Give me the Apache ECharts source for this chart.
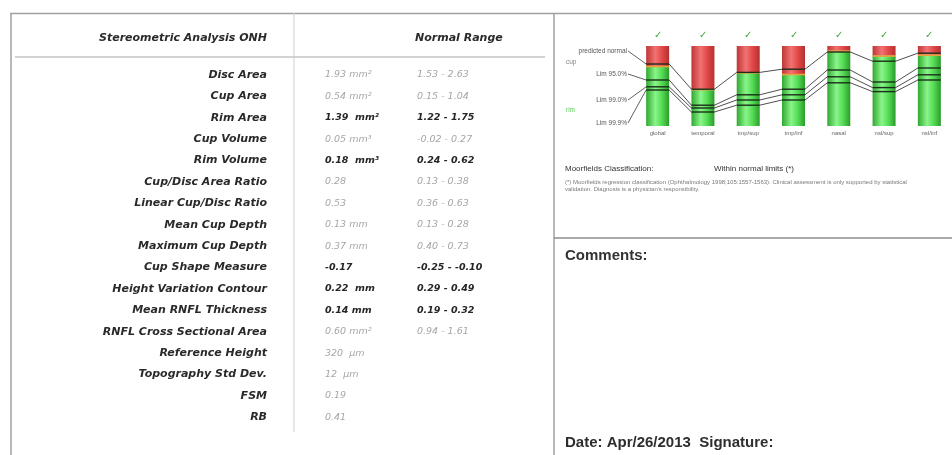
<!DOCTYPE html>
<html><head><meta charset="utf-8">
<script src="https://cdn.jsdelivr.net/npm/echarts@6/dist/echarts.min.js"></script>
<style>html,body{margin:0;padding:0;background:#fff}#c{width:952px;height:455px}</style>
</head><body><div id="c"></div>
<script>
// ---------- data ----------
const sectors = ['global', 'temporal', 'tmp/sup', 'tmp/inf', 'nasal', 'nsl/sup', 'nsl/inf'];
const sectorStatus = ['✓', '✓', '✓', '✓', '✓', '✓', '✓'];
const cupShare = [0.25, 0.54, 0.33, 0.35, 0.06, 0.12, 0.11];
const rimShare = [0.75, 0.46, 0.67, 0.65, 0.94, 0.88, 0.89];
const limitPredicted = [0.775, 0.46, 0.67, 0.71, 0.925, 0.81, 0.91];
const limit95 = [0.575, 0.26, 0.39, 0.46, 0.70, 0.55, 0.725];
const limit99 = [0.49, 0.225, 0.325, 0.39, 0.615, 0.48, 0.64];
const limit999 = [0.45, 0.175, 0.26, 0.325, 0.54, 0.43, 0.575];
const limitNames = ['predicted normal', 'Lim 95.0%', 'Lim 99.0%', 'Lim 99.9%'];

const tableHeader = ['Stereometric Analysis ONH', 'Normal Range'];
const paramNames = ['Disc Area', 'Cup Area', 'Rim Area', 'Cup Volume', 'Rim Volume',
  'Cup/Disc Area Ratio', 'Linear Cup/Disc Ratio', 'Mean Cup Depth', 'Maximum Cup Depth',
  'Cup Shape Measure', 'Height Variation Contour', 'Mean RNFL Thickness',
  'RNFL Cross Sectional Area', 'Reference Height', 'Topography Std Dev.', 'FSM', 'RB'];
const paramValues = ['1.93 mm²', '0.54 mm²', '1.39  mm²', '0.05 mm³', '0.18  mm³',
  '0.28', '0.53', '0.13 mm', '0.37 mm', '-0.17', '0.22  mm', '0.14 mm',
  '0.60 mm²', '320  µm', '12  µm', '0.19', '0.41'];
const paramRanges = ['1.53 - 2.63', '0.15 - 1.04', '1.22 - 1.75', '-0.02 - 0.27', '0.24 - 0.62',
  '0.13 - 0.38', '0.36 - 0.63', '0.13 - 0.28', '0.40 - 0.73', '-0.25 - -0.10', '0.29 - 0.49',
  '0.19 - 0.32', '0.94 - 1.61', '', '', '', ''];
const paramFlagged = [false, false, true, false, true, false, false, false, false,
  true, true, true, false, false, false, false, false];

const classificationLabel = 'Moorfields Classification:';
const classificationResult = 'Within normal limits (*)';
const footnote = ['(*) Moorfields regression classification (Ophthalmology 1998;105:1557-1563). Clinical assessment is only supported by statistical',
  'validation. Diagnosis is a physician\'s responsibility.'];
const commentsLabel = 'Comments:';
const dateLine = 'Date: Apr/26/2013  Signature:';

// ---------- drawing ----------
const chart = echarts.init(document.getElementById('c'));
const DV = '"DejaVu Sans", sans-serif';
const LS = '"Liberation Sans", Arial, sans-serif';
const rowY0 = 75, rowStep = 21.4;
const g = [];
function line(x1, y1, x2, y2, stroke, w) {
  g.push({type: 'line', silent: true, shape: {x1, y1, x2, y2}, style: {stroke, lineWidth: w}});
}
function text(x, y, t, opt) {
  g.push({type: 'text', silent: true, x, y, style: Object.assign({text: t, verticalAlign: 'middle', align: 'left'}, opt)});
}
// frame
line(10, 13.5, 952, 13.5, '#a0a0a0', 1.5);
line(11, 13, 11, 455, '#a0a0a0', 1.5);
line(554, 13, 554, 455, '#a0a0a0', 1.5);
line(294, 13, 294, 432, '#cfcfcf', 1);
line(15, 57, 545, 57, '#c4c4c4', 1.5);
line(554, 238, 952, 238, '#8c8c8c', 1.5);
// table
text(267, 38, tableHeader[0], {align: 'right', fontFamily: DV, fontSize: 11, fontWeight: 'bold', fontStyle: 'italic', fill: '#2a2a2a'});
text(415, 38, tableHeader[1], {fontFamily: DV, fontSize: 11, fontWeight: 'bold', fontStyle: 'italic', fill: '#2a2a2a'});
paramNames.forEach((n, i) => {
  const y = rowY0 + i * rowStep;
  text(267, y, n, {align: 'right', fontFamily: DV, fontSize: 11, fontWeight: 'bold', fontStyle: 'italic', fill: '#2a2a2a'});
  const f = paramFlagged[i];
  const st = {fontFamily: DV, fontSize: 9.5, fontStyle: 'italic', fontWeight: f ? 'bold' : 'normal', fill: f ? '#262626' : '#a6a6a6'};
  text(325, y, paramValues[i], st);
  if (paramRanges[i]) text(417, y, paramRanges[i], st);
});
// right panel texts
text(565, 169, classificationLabel, {fontFamily: LS, fontSize: 8, fill: '#333'});
text(714, 169, classificationResult, {fontFamily: LS, fontSize: 8, fill: '#333'});
text(565, 182, footnote[0], {fontFamily: LS, fontSize: 6, fill: '#7a7a7a'});
text(565, 189, footnote[1], {fontFamily: LS, fontSize: 6, fill: '#7a7a7a'});
text(565, 256, commentsLabel, {fontFamily: LS, fontSize: 15, fontWeight: 'bold', fill: '#333'});
text(565, 443, dateLine, {fontFamily: LS, fontSize: 15, fontWeight: 'bold', fill: '#2e2e2e'});
// chart side labels
const labelAnchorY = [51, 74, 100, 123];
limitNames.forEach((n, k) => text(627, labelAnchorY[k], n, {align: 'right', fontFamily: LS, fontSize: 6.5, fill: '#555'}));
text(566, 62, 'cup', {fontFamily: LS, fontSize: 6.5, fill: '#888'});
text(566, 110, 'rim', {fontFamily: LS, fontSize: 6.5, fill: '#5fcf5f'});

const limitSeries = [limitPredicted, limit95, limit99, limit999];
const HALF = 11.5;
function renderItem(params, api) {
  const i = params.dataIndex;
  const children = [];
  const b = api.coord([i, rimShare[i]]);
  children.push({type: 'line', shape: {x1: b[0] - HALF, y1: b[1] + 0.5, x2: b[0] + HALF, y2: b[1] + 0.5}, style: {stroke: '#e8a23c', lineWidth: 1.6}});
  limitSeries.forEach((arr, k) => {
    const p = api.coord([i, arr[i]]);
    children.push({type: 'line', shape: {x1: p[0] - HALF, y1: p[1], x2: p[0] + HALF, y2: p[1]}, style: {stroke: '#1b2e1b', lineWidth: 1.4}});
    if (i < sectors.length - 1) {
      const q = api.coord([i + 1, arr[i + 1]]);
      children.push({type: 'line', shape: {x1: p[0] + HALF, y1: p[1], x2: q[0] - HALF, y2: q[1]}, style: {stroke: '#3a3a3a', lineWidth: 0.9}});
    }
    if (i === 0) {
      children.push({type: 'line', shape: {x1: 628, y1: labelAnchorY[k], x2: p[0] - HALF, y2: p[1]}, style: {stroke: '#3a3a3a', lineWidth: 0.8}});
    }
  });
  return {type: 'group', children};
}
const greenGrad = new echarts.graphic.LinearGradient(0, 0, 1, 0, [
  {offset: 0, color: '#30a830'}, {offset: 0.4, color: '#8af58a'}, {offset: 0.7, color: '#52da52'}, {offset: 1, color: '#2c9a2c'}]);
const redGrad = new echarts.graphic.LinearGradient(0, 0, 1, 0, [
  {offset: 0, color: '#bf3636'}, {offset: 0.4, color: '#f27272'}, {offset: 0.7, color: '#e04747'}, {offset: 1, color: '#b53030'}]);

chart.setOption({
  animation: false,
  grid: {left: 635, top: 46, width: 331, height: 80},
  xAxis: [
    {type: 'category', data: sectors, position: 'bottom', axisLine: {show: false}, axisTick: {show: false},
     axisLabel: {interval: 0, fontSize: 6, color: '#666', margin: 4, fontFamily: LS}},
    {type: 'category', data: sectors, position: 'top', axisLine: {show: false}, axisTick: {show: false},
     axisLabel: {interval: 0, fontSize: 10, color: '#3daa3d', margin: 6, formatter: (v, i) => sectorStatus[i]}}
  ],
  yAxis: {type: 'value', min: 0, max: 1, show: false},
  series: [
    {type: 'bar', name: 'rim', stack: 's', barWidth: 23, data: rimShare, itemStyle: {color: greenGrad}},
    {type: 'bar', name: 'cup', stack: 's', barWidth: 23, data: cupShare, itemStyle: {color: redGrad}},
    {type: 'custom', renderItem, data: sectors.map((s, i) => [i]), encode: {x: 0}, z: 5, clip: false}
  ],
  graphic: g
});
</script></body></html>
